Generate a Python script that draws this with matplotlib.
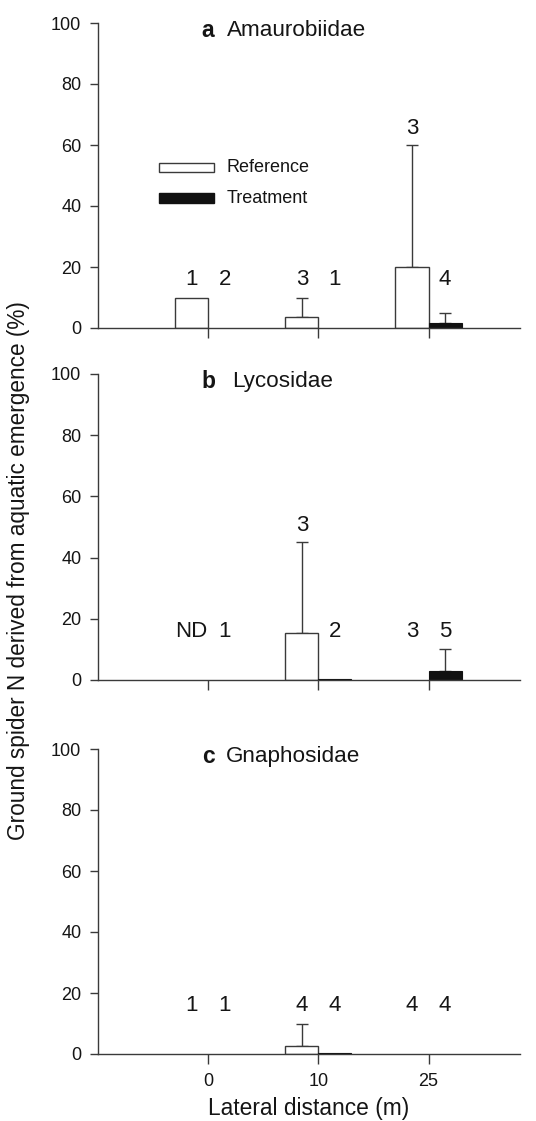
import matplotlib
matplotlib.use("Agg")
import matplotlib.pyplot as plt
from matplotlib.patches import Rectangle
import numpy as np

plt.rcParams['font.family'] = ['Liberation Sans', 'DejaVu Sans']

distances = ["0", "10", "25"]
panel_letters = ["a", "b", "c"]
families = ["Amaurobiidae", "Lycosidae", "Gnaphosidae"]

# Reference / Treatment means and upper error
ref_a = [10, 3.5, 20]
ref_err_a = [0, 6.5, 40]
trt_a = [0, 0, 1.5]
trt_err_a = [0, 0, 3.5]
ref_n_a = ["1", "3", "3"]
trt_n_a = ["2", "1", "4"]

ref_b = [0, 15.5, 0]
ref_err_b = [0, 29.5, 0]
trt_b = [0, 0.3, 3]
trt_err_b = [0, 0, 7]
ref_n_b = ["ND", "3", "3"]
trt_n_b = ["1", "2", "5"]

ref_c = [0, 2.5, 0]
ref_err_c = [0, 7.5, 0]
trt_c = [0, 0.3, 0]
trt_err_c = [0, 0, 0]
ref_n_c = ["1", "4", "4"]
trt_n_c = ["1", "4", "4"]

panels = [
    (ref_a, ref_err_a, trt_a, trt_err_a, ref_n_a, trt_n_a),
    (ref_b, ref_err_b, trt_b, trt_err_b, ref_n_b, trt_n_b),
    (ref_c, ref_err_c, trt_c, trt_err_c, ref_n_c, trt_n_c),
]

W, H = 536, 1121
fig = plt.figure(figsize=(W / 100, H / 100), dpi=100)

left = 98 / W
width = (520 - 98) / W
tops = [23, 374, 749]
bottoms = [328, 680, 1054]

edge = "#3a3a3a"
txt = "#151515"
bw = 0.3
x = np.arange(len(distances))
name_x = [0.17, 0.22, 0.165]

for i, (ref, rerr, trt, terr, rn, tn) in enumerate(panels):
    ax = fig.add_axes([left, 1 - bottoms[i] / H, width, (bottoms[i] - tops[i]) / H])
    for j in range(len(x)):
        if ref[j] > 0 and rn[j] != "ND":
            ax.bar(x[j] - bw / 2, ref[j], width=bw, color="white", edgecolor=edge, linewidth=1.0, zorder=2)
            if rerr[j] > 0:
                ax.errorbar(x[j] - bw / 2, ref[j], yerr=[[0], [rerr[j]]], fmt="none",
                            ecolor=edge, elinewidth=1.0, capsize=4.5, capthick=1.0, zorder=1)
        if trt[j] > 0:
            ax.bar(x[j] + bw / 2, trt[j], width=bw, color="#111111", edgecolor="#111111", linewidth=0.8, zorder=2)
            if terr[j] > 0:
                ax.errorbar(x[j] + bw / 2, trt[j], yerr=[[0], [terr[j]]], fmt="none",
                            ecolor=edge, elinewidth=1.0, capsize=4.5, capthick=1.0, zorder=1)
        ry = max(16, ref[j] + rerr[j] + 5.5)
        ty = max(16, trt[j] + terr[j] + 5.5)
        ax.text(x[j] - bw / 2, ry, rn[j], ha="center", va="center", fontsize=16, color=txt)
        ax.text(x[j] + bw / 2, ty, tn[j], ha="center", va="center", fontsize=16, color=txt)

    ax.text(0, 97.5, panel_letters[i], ha="center", va="center", fontsize=16.5, fontweight="bold", color=txt)
    ax.text(name_x[i], 97.5, families[i], ha="left", va="center", fontsize=16.2, color=txt)

    ax.set_xlim(-1.0, 2.83)
    ax.set_ylim(0, 100)
    ax.set_yticks([0, 20, 40, 60, 80, 100])
    ax.set_xticks(x)
    if i == 2:
        ax.set_xticklabels(distances, fontsize=13)
        ax.set_xlabel("Lateral distance (m)", fontsize=16.4, labelpad=5, color=txt)
    else:
        ax.set_xticklabels([])
    ax.tick_params(axis="y", labelsize=13, length=6, width=1.0, color=edge, pad=6, direction="out", labelcolor=txt)
    ax.tick_params(axis="x", length=7, width=1.0, color=edge, pad=7, direction="out", labelcolor=txt)
    for s in ["top", "right"]:
        ax.spines[s].set_visible(False)
    for s in ["left", "bottom"]:
        ax.spines[s].set_color(edge)
        ax.spines[s].set_linewidth(1.0)
    ax.patch.set_alpha(0)

    if i == 0:
        ax.add_patch(Rectangle((-0.445, 51.1), 0.5, 3.0, facecolor="white", edgecolor=edge, linewidth=1.0))
        ax.add_patch(Rectangle((-0.445, 41.1), 0.5, 3.0, facecolor="#111111", edgecolor="#111111", linewidth=1.0))
        ax.text(0.17, 52.6, "Reference", ha="left", va="center", fontsize=13, color=txt)
        ax.text(0.17, 42.6, "Treatment", ha="left", va="center", fontsize=13, color=txt)

fig.text(19 / W, 1 - 571 / H, "Ground spider N derived from aquatic emergence (%)",
         rotation=90, ha="center", va="center", fontsize=16.3, color=txt)

fig.savefig("out.png", dpi=100)
